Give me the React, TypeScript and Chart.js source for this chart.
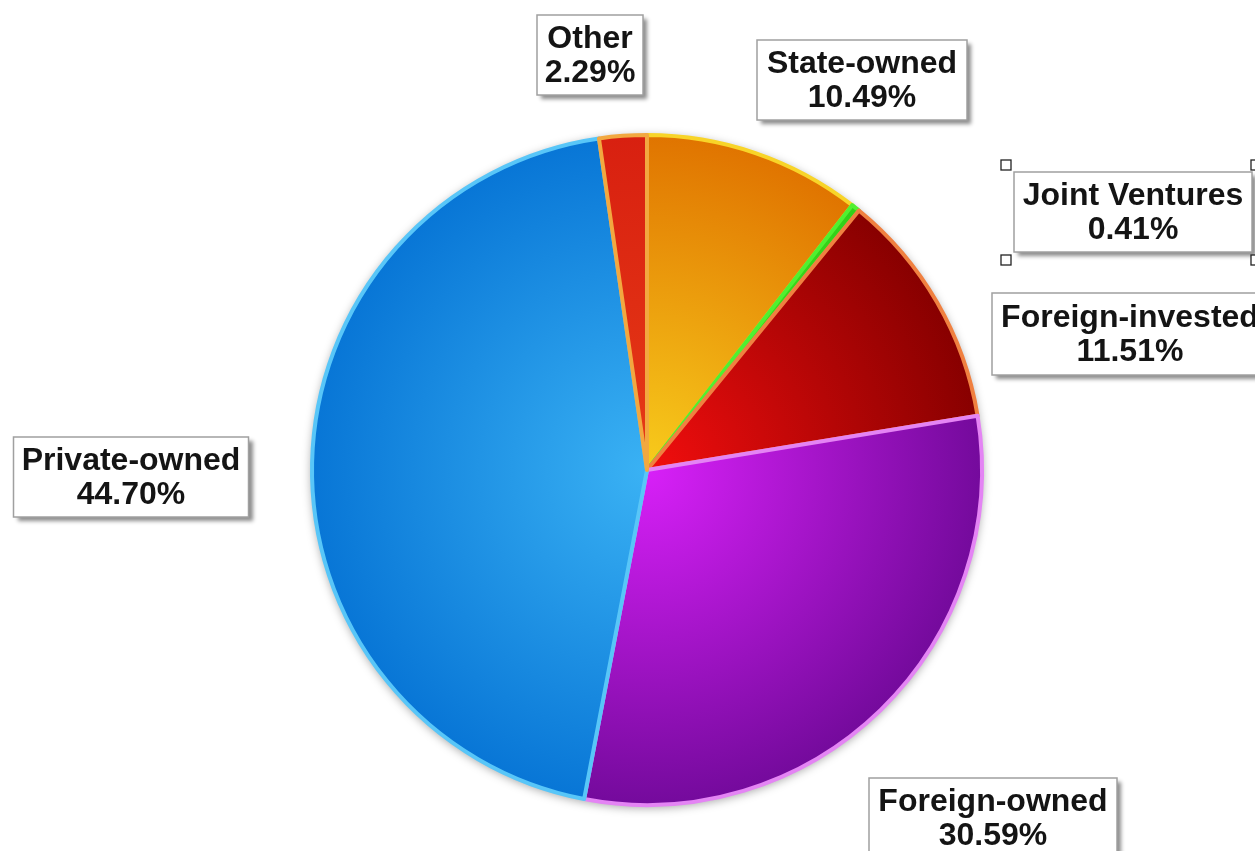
import React, { useEffect, useRef } from "react";
import { Chart, registerables } from "chart.js";

Chart.register(...registerables);

// ---- data (clockwise from 12 o'clock) ----
const categories = ["State-owned", "Joint Ventures", "Foreign-invested", "Foreign-owned", "Private-owned", "Other"];
const shares = [10.49, 0.41, 11.51, 30.59, 44.7, 2.29];

// ---- styles ----
const innerColors = ["#f8cc1c", "#44e422", "#f20e0e", "#d820f8", "#3ab2f4", "#e63a16"];
const outerColors = ["#e07400", "#30d018", "#880000", "#740a9c", "#0876d6", "#d82010"];
const borderColors = ["#f8d428", "#50f030", "#f08040", "#e484f4", "#58c6f8", "#f2a840"];

// ---- label box layout: centre x, centre y, width, height ----
const labelBoxes = [
  { x: 862, y: 80, w: 210, h: 80 },
  { x: 1133, y: 212, w: 238, h: 80 },
  { x: 1130, y: 334, w: 276, h: 82 },
  { x: 993, y: 818, w: 248, h: 80 },
  { x: 131, y: 477, w: 235, h: 80 },
  { x: 590, y: 55, w: 106, h: 80 },
];
const selectedLabel = 1;

const W = 1255;
const H = 851;
const RADIUS = 335;

const pieShadow = {
  id: "pieShadow",
  beforeDatasetsDraw(chart: any) {
    const meta = chart.getDatasetMeta(0);
    const arc = meta.data[0];
    if (!arc) return;
    const ctx = chart.ctx;
    ctx.save();
    ctx.shadowColor = "rgba(0,0,0,0.35)";
    ctx.shadowBlur = 10;
    ctx.shadowOffsetY = 2;
    ctx.fillStyle = "#ffffff";
    ctx.beginPath();
    ctx.arc(arc.x, arc.y, arc.outerRadius + 1, 0, Math.PI * 2);
    ctx.fill();
    ctx.restore();
  },
};

const boxLabels = {
  id: "boxLabels",
  afterDatasetsDraw(chart: any) {
    const ctx = chart.ctx;
    const labels = chart.data.labels as string[];
    const values = chart.data.datasets[0].data as number[];
    labels.forEach((name, i) => {
      const b = labelBoxes[i];
      const x0 = b.x - b.w / 2;
      const y0 = b.y - b.h / 2;
      ctx.save();
      ctx.shadowColor = "rgba(0,0,0,0.45)";
      ctx.shadowBlur = 4;
      ctx.shadowOffsetX = 4;
      ctx.shadowOffsetY = 4;
      ctx.fillStyle = "#ffffff";
      ctx.fillRect(x0, y0, b.w, b.h);
      ctx.restore();
      ctx.save();
      ctx.strokeStyle = "#a0a0a0";
      ctx.lineWidth = 1.5;
      ctx.strokeRect(x0, y0, b.w, b.h);
      ctx.fillStyle = "#141414";
      ctx.font = "bold 32px 'Liberation Sans', Arial, sans-serif";
      ctx.textAlign = "center";
      ctx.textBaseline = "middle";
      ctx.fillText(name, b.x, b.y - 16);
      ctx.fillText(values[i].toFixed(2) + "%", b.x, b.y + 18);
      ctx.restore();
      if (i === selectedLabel) {
        const pts = [
          [x0 - 8, y0 - 7],
          [x0 + b.w + 4, y0 - 7],
          [x0 - 8, y0 + b.h + 8],
          [x0 + b.w + 4, y0 + b.h + 8],
        ];
        ctx.save();
        ctx.strokeStyle = "#222";
        ctx.lineWidth = 1.3;
        ctx.fillStyle = "#fff";
        pts.forEach(([px, py]) => {
          ctx.fillRect(px - 5, py - 5, 10, 10);
          ctx.strokeRect(px - 5, py - 5, 10, 10);
        });
        ctx.restore();
      }
    });
  },
};

export default function App() {
  const ref = useRef<HTMLCanvasElement | null>(null);

  useEffect(() => {
    if (!ref.current) return;
    const chart = new Chart(ref.current, {
      type: "pie",
      data: {
        labels: categories,
        datasets: [
          {
            data: shares,
            backgroundColor: (c: any) => {
              const i = c.dataIndex ?? 0;
              const area = c.chart.chartArea;
              if (!area) return innerColors[i];
              const cx = (area.left + area.right) / 2;
              const cy = (area.top + area.bottom) / 2;
              const g = c.chart.ctx.createRadialGradient(cx, cy, 0, cx, cy, RADIUS);
              g.addColorStop(0, innerColors[i]);
              g.addColorStop(1, outerColors[i]);
              return g;
            },
            borderColor: borderColors,
            borderWidth: 4,
            borderJoinStyle: "round",
          } as any,
        ],
      },
      options: {
        responsive: false,
        animation: false,
        events: [],
        radius: RADIUS,
        rotation: 0,
        layout: { padding: { left: 39, right: 0, top: 89, bottom: 0 } },
        plugins: {
          legend: { display: false },
          tooltip: { enabled: false },
        },
      } as any,
      plugins: [pieShadow, boxLabels],
    });
    return () => chart.destroy();
  }, []);

  return (
    <div style={{ position: "fixed", left: 0, top: 0, width: W, height: H, background: "#fff" }}>
      <canvas ref={ref} width={W} height={H} style={{ width: W, height: H, display: "block" }} />
    </div>
  );
}
